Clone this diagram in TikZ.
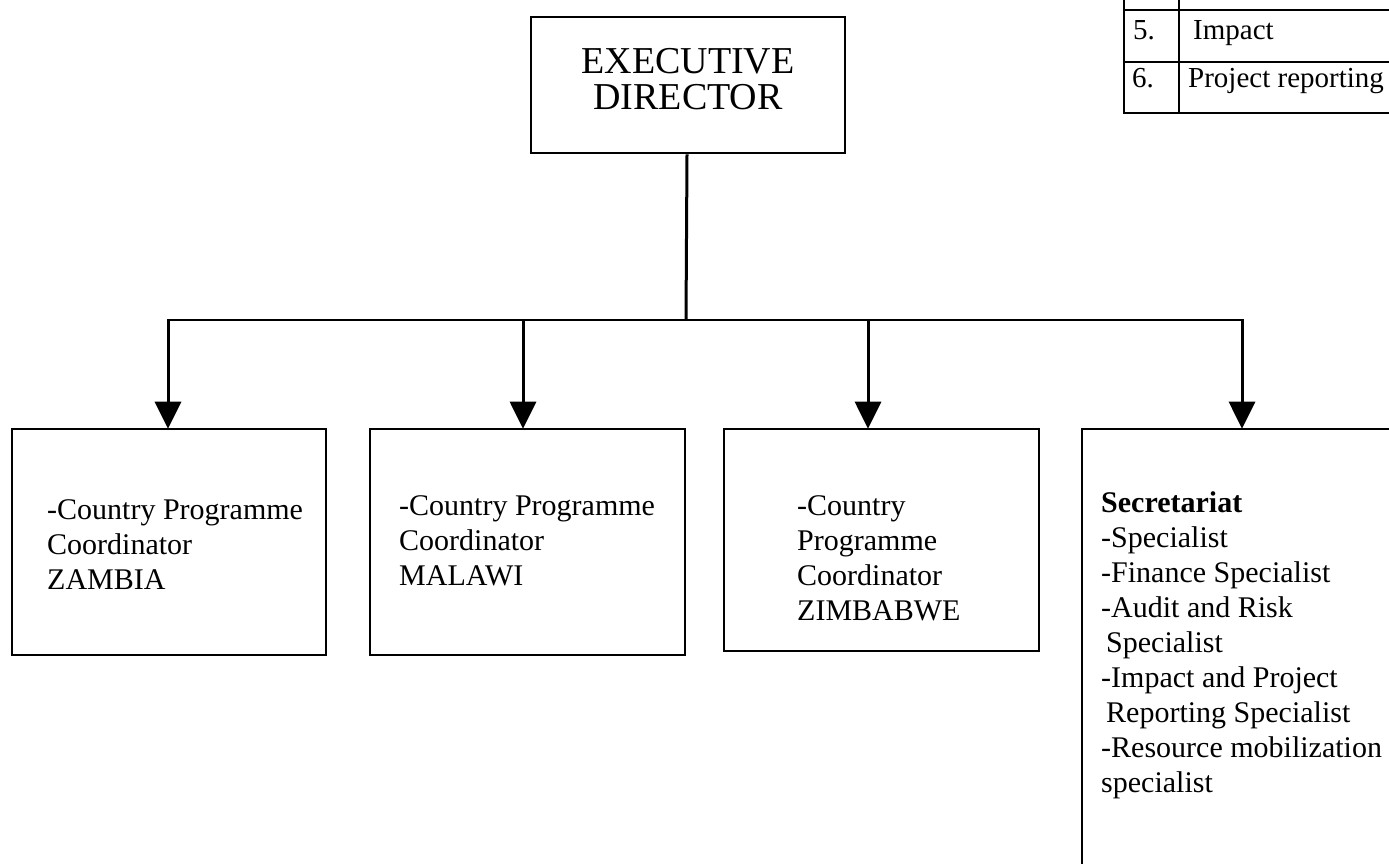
\documentclass[tikz,border=0pt]{standalone}
\usepackage{fontspec}
\setmainfont{Liberation Serif}
\usetikzlibrary{arrows.meta}
\tikzset{
  x=1pt, y=-1pt,
  box/.style={draw, line width=2.6pt, minimum width=#1, inner sep=0pt},
  txt/.style={anchor=base west, inner sep=0pt, font=\fontsize{30}{35}\selectfont},
  bar/.style={line width=1.4pt},
  down/.style={line width=3pt, -{Triangle[width=26pt,length=27pt]}, shorten >=-1pt},
  tbl/.style={line width=1.5pt},
  ttxt/.style={anchor=base west, inner sep=0pt, font=\fontsize{29}{35}\selectfont},
}
\begin{document}
\begin{tikzpicture}
\useasboundingbox (0,0) rectangle (1389,864);
\clip (0,0) rectangle (1389,864);
% executive
\node[box=314pt, minimum height=136pt] (exec) at (688,85) {};
\node[anchor=base, inner sep=0pt, font=\fontsize{38}{36}\selectfont] (exectxt) at (688,74)
  {\vtop{\hbox to 0pt{\hss EXECUTIVE\hss}\hbox to 0pt{\hss DIRECTOR\hss}}};
% boxes
\node[box=314pt, minimum height=226pt] (zam) at (169,542) {};
\node[box=315pt, minimum height=226pt] (mal) at (527.5,542) {};
\node[box=315pt, minimum height=222pt] (zim) at (881.5,540) {};
\node[box=320pt, minimum height=460pt] (sec) at (1242,659) {};
% connectors
\coordinate (hub) at (686,320);
\coordinate (b1) at (168,320);
\coordinate (b2) at (523,320);
\coordinate (b3) at (868,320);
\coordinate (b4) at (1242,320);
\draw[line width=3pt] (exec.south -| 687,0) -- (hub);
\draw[bar] ([xshift=-1.5pt]b1) -- ([xshift=1.5pt]b4);
\draw[down] (b1) -- (b1 |- zam.north);
\draw[down] (b2) -- (b2 |- mal.north);
\draw[down] (b3) -- (b3 |- zim.north);
\draw[down] (b4) -- (b4 |- sec.north);
% texts
\node[txt] (zamtxt) at (47,519) {\vtop{\hbox{-Country Programme}\hbox{Coordinator}\hbox{ZAMBIA}}};
\node[txt] (maltxt) at (399,515) {\vtop{\hbox{-Country Programme}\hbox{Coordinator}\hbox{MALAWI}}};
\node[txt] (zimtxt) at (797,515) {\vtop{\hbox{-Country}\hbox{Programme}\hbox{Coordinator}\hbox{ZIMBABWE}}};
\node[txt] (sectxt) at (1101,512) {\vtop{\hbox{\textbf{Secretariat}}\hbox{-Specialist}\hbox{-Finance Specialist}\hbox{-Audit and Risk}\hbox{\hspace{5pt}Specialist}\hbox{-Impact and Project}\hbox{\hspace{5pt}Reporting Specialist}\hbox{-Resource mobilization}\hbox{specialist}}};
% table
\draw[tbl] (1124,0) -- (1124,113) -- (1400,113);
\draw[tbl] (1179,0) -- (1179,113);
\draw[tbl] (1124,10) -- (1400,10);
\draw[tbl] (1124,62) -- (1400,62);
\node[ttxt] (n5) at (1133,40) {5.};
\node[ttxt] (t5) at (1193,40) {Impact};
\node[ttxt] (n6) at (1132,88) {6.};
\node[ttxt] (t6) at (1188,88) {Project reporting};
\end{tikzpicture}
\end{document}
